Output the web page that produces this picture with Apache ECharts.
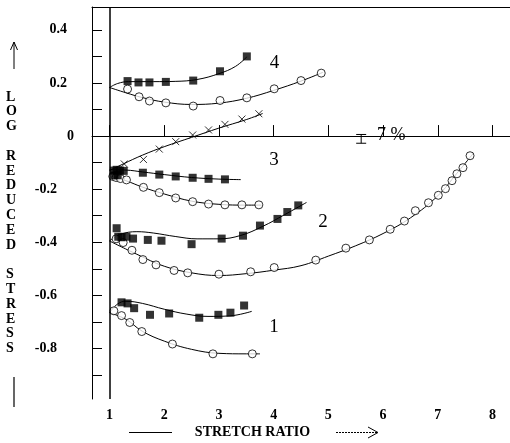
<!DOCTYPE html>
<html>
<head>
<meta charset="utf-8">
<script src="https://cdn.jsdelivr.net/npm/echarts@6/dist/echarts.min.js"></script>
<style>
html, body { margin: 0; padding: 0; background: #fff; }
#chart { width: 510px; height: 443px; }
</style>
</head>
<body>
<div id="chart"></div>
<script>
const xTicks = [1, 2, 3, 4, 5, 6, 7, 8];
const yTicks = [-0.9, -0.8, -0.7, -0.6, -0.5, -0.4, -0.3, -0.2, -0.1, 0, 0.1, 0.2, 0.3, 0.4];
const yLabels = [-0.8, -0.6, -0.4, -0.2, 0, 0.2, 0.4];
const yTitle = 'LOG REDUCED STRESS';

// curve 4
const sq4 = [[1.33, 0.207], [1.53, 0.202], [1.73, 0.202], [2.03, 0.204], [2.53, 0.209], [3.02, 0.244], [3.51, 0.300]];
const fitSq4 = [[1, 0.183], [1.15, 0.198], [1.35, 0.205], [1.8, 0.205], [2.2, 0.206], [2.6, 0.213], [3.0, 0.235], [3.3, 0.262], [3.51, 0.298]];
const ci4 = [[1.33, 0.177], [1.54, 0.148], [1.73, 0.132], [2.03, 0.125], [2.53, 0.113], [3.02, 0.134], [3.51, 0.144], [4.01, 0.178], [4.50, 0.209], [4.87, 0.237]];
const fitCi4 = [[1, 0.183], [1.3, 0.163], [1.6, 0.145], [2.0, 0.128], [2.5, 0.119], [3.0, 0.124], [3.5, 0.142], [4.0, 0.172], [4.5, 0.207], [4.9, 0.240]];

// curve 3
const cr3 = [[1.27, -0.105], [1.62, -0.088], [1.91, -0.049], [2.21, -0.021], [2.52, 0.004], [2.81, 0.023], [3.11, 0.044], [3.42, 0.064], [3.73, 0.084]];
const fitCr3 = [[1, -0.13], [1.25, -0.105], [1.6, -0.072], [2.0, -0.040], [2.5, -0.005], [3.0, 0.030], [3.5, 0.062], [3.8, 0.085]];
const sq3 = [[1.08, -0.130], [1.13, -0.127], [1.19, -0.130], [1.26, -0.131], [1.09, -0.148], [1.15, -0.147], [1.61, -0.138], [1.91, -0.145], [2.21, -0.152], [2.52, -0.157], [2.81, -0.161], [3.11, -0.163]];
const fitSq3 = [[1, -0.127], [1.3, -0.128], [1.6, -0.135], [2.0, -0.145], [2.5, -0.156], [3.0, -0.162], [3.4, -0.164]];
const ci3 = [[1.06, -0.152], [1.12, -0.156], [1.2, -0.16], [1.31, -0.165], [1.62, -0.193], [1.91, -0.213], [2.21, -0.233], [2.52, -0.247], [2.81, -0.256], [3.11, -0.259], [3.42, -0.259], [3.73, -0.259]];
const fitCi3 = [[1, -0.150], [1.3, -0.168], [1.6, -0.192], [2.0, -0.218], [2.5, -0.245], [3.0, -0.257], [3.5, -0.260], [3.78, -0.260]];

// curve 2
const sq2 = [[1.13, -0.347], [1.16, -0.379], [1.22, -0.381], [1.31, -0.379], [1.43, -0.386], [1.70, -0.391], [1.95, -0.394], [2.50, -0.407], [3.05, -0.386], [3.44, -0.375], [3.75, -0.337], [4.07, -0.312], [4.25, -0.286], [4.45, -0.261]];
const fitSq2 = [[1, -0.395], [1.2, -0.370], [1.5, -0.360], [1.8, -0.365], [2.2, -0.378], [2.6, -0.387], [3.0, -0.387], [3.4, -0.374], [3.8, -0.340], [4.2, -0.296], [4.6, -0.250]];
const ci2 = [[1.12, -0.387], [1.25, -0.401], [1.41, -0.430], [1.61, -0.465], [1.85, -0.485], [2.18, -0.506], [2.43, -0.515], [3.00, -0.520], [3.58, -0.511], [4.01, -0.495], [4.77, -0.467], [5.32, -0.422], [5.75, -0.391], [6.13, -0.351], [6.39, -0.320], [6.59, -0.281], [6.83, -0.251], [7.01, -0.223], [7.14, -0.198], [7.26, -0.168], [7.35, -0.142], [7.46, -0.119], [7.59, -0.074]];
const fitCi2 = [[1, -0.395], [1.5, -0.445], [2.0, -0.49], [2.5, -0.515], [3.0, -0.525], [3.5, -0.518], [4.0, -0.505], [4.5, -0.488], [5.0, -0.452], [5.5, -0.413], [6.0, -0.367], [6.5, -0.308], [7.0, -0.225], [7.35, -0.14], [7.65, -0.065]];

// curve 1
const sq1 = [[1.22, -0.626], [1.33, -0.630], [1.45, -0.648], [1.74, -0.673], [2.09, -0.668], [2.64, -0.684], [2.99, -0.673], [3.21, -0.665], [3.46, -0.638]];
const fitSq1 = [[1, -0.665], [1.15, -0.632], [1.3, -0.622], [1.6, -0.630], [2.0, -0.652], [2.4, -0.670], [2.8, -0.679], [3.2, -0.677], [3.6, -0.660]];
const ci1 = [[1.08, -0.658], [1.22, -0.676], [1.37, -0.702], [1.59, -0.736], [2.15, -0.783], [2.89, -0.820], [3.61, -0.820]];
const fitCi1 = [[1, -0.665], [1.3, -0.69], [1.6, -0.735], [2.0, -0.772], [2.5, -0.803], [3.0, -0.818], [3.5, -0.820], [3.75, -0.820]];

// 7 % error bar: x, top, bottom
const errBar = [[5.60, 0.006, -0.027]];

const serif = 'Liberation Serif';
const black = '#000';

const fit = (data) => ({
  type: 'line', data, smooth: 0.4, symbol: 'none', silent: true, z: 2,
  lineStyle: { color: black, width: 1 },
});
const squares = (data) => ({
  type: 'scatter', data, symbol: 'rect', symbolSize: 8, silent: true, z: 4,
  itemStyle: { color: black },
});
const circles = (data) => ({
  type: 'scatter', data, symbol: 'circle', symbolSize: 8, silent: true, z: 3,
  itemStyle: { color: '#fff', borderColor: black, borderWidth: 1 },
});
const crosses = (data) => ({
  type: 'scatter', data, symbol: 'path://M0,0L10,10M10,0L0,10', symbolSize: 7, silent: true, z: 3,
  itemStyle: { color: 'none', borderColor: black, borderWidth: 1 },
});

const chart = echarts.init(document.getElementById('chart'));
chart.setOption({
  animation: false,
  backgroundColor: '#fff',
  grid: { left: 92, right: 0, top: 7, bottom: 44 },
  xAxis: [{
    type: 'value', min: 0.68, max: 8.32,
    axisLine: { lineStyle: { color: black, width: 1 } },
    axisTick: { inside: true, length: 11, customValues: xTicks, lineStyle: { color: black } },
    axisLabel: { customValues: xTicks, margin: 9, color: black, fontFamily: serif, fontWeight: 'bold', fontSize: 14 },
    splitLine: { show: false },
  }, {
    type: 'value', position: 'top', min: 0.68, max: 8.32,
    axisLine: { show: true, lineStyle: { color: black, width: 1 } },
    axisTick: { show: false }, axisLabel: { show: false }, splitLine: { show: false },
  }],
  yAxis: {
    type: 'value', min: -0.99, max: 0.486,
    axisLine: { show: true, lineStyle: { color: black, width: 1 } },
    axisTick: { inside: true, length: 10, customValues: yTicks, lineStyle: { color: black } },
    axisLabel: {
      customValues: yLabels, margin: 18, color: black,
      fontFamily: serif, fontWeight: 'bold', fontSize: 14,
      formatter: (v) => {
        const r = Math.round(v * 10) / 10;
        if (r > 0) return '{p|' + r + '}';
        if (r < 0) return '{n|' + r + '}';
        return '{z|0}';
      },
      rich: {
        p: { padding: [0, 7, 0, 0], fontFamily: serif, fontWeight: 'bold', fontSize: 14, color: black },
        n: { padding: [0, 17, 0, 0], fontFamily: serif, fontWeight: 'bold', fontSize: 14, color: black },
        z: { fontFamily: serif, fontWeight: 'bold', fontSize: 14, color: black },
      },
    },
    splitLine: { show: false },
  },
  series: [
    Object.assign(fit(fitSq4), {
      markLine: {
        silent: true, symbol: 'none', label: { show: false },
        lineStyle: { color: black, width: 1.5, type: 'solid' },
        data: [{ xAxis: 1 }],
      },
    }),
    fit(fitCi4), fit(fitCr3), fit(fitSq3), fit(fitCi3),
    fit(fitSq2), fit(fitCi2), fit(fitSq1), fit(fitCi1),
    circles(ci4), circles(ci3), circles(ci2), circles(ci1),
    crosses(cr3),
    squares(sq4), squares(sq3), squares(sq2), squares(sq1),
    {
      type: 'custom', data: errBar, silent: true, z: 3,
      renderItem: (params, api) => {
        const top = api.coord([api.value(0), api.value(1)]);
        const bot = api.coord([api.value(0), api.value(2)]);
        const w = 5;
        const st = { stroke: black, lineWidth: 1 };
        return {
          type: 'group', children: [
            { type: 'line', shape: { x1: top[0], y1: top[1], x2: bot[0], y2: bot[1] }, style: st },
            { type: 'line', shape: { x1: top[0] - w, y1: top[1], x2: top[0] + w, y2: top[1] }, style: st },
            { type: 'line', shape: { x1: bot[0] - w, y1: bot[1], x2: bot[0] + w, y2: bot[1] }, style: st },
          ],
        };
      },
    },
  ],
  graphic: [
    {
      type: 'text', left: 6, top: 89.6,
      style: {
        text: yTitle.split('').map((c) => (c === ' ' ? '' : c)).join('\n'),
        font: 'bold 14px "Liberation Serif"', fill: black, lineHeight: 14.8, align: 'center',
      },
    },
    { type: 'polyline', shape: { points: [[14, 69], [14, 42]] }, style: { stroke: black, lineWidth: 1, fill: null } },
    { type: 'polyline', shape: { points: [[10.5, 50], [14, 42], [17.5, 50]] }, style: { stroke: black, lineWidth: 1, fill: null } },
    { type: 'polyline', shape: { points: [[14, 377], [14, 407]] }, style: { stroke: black, lineWidth: 1.2, fill: null } },
    { type: 'text', x: 274.5, y: 63, style: { text: '4', font: '19px "Liberation Serif"', fill: black, align: 'center', verticalAlign: 'middle' } },
    { type: 'text', x: 274, y: 160, style: { text: '3', font: '19px "Liberation Serif"', fill: black, align: 'center', verticalAlign: 'middle' } },
    { type: 'text', x: 323, y: 222, style: { text: '2', font: '19px "Liberation Serif"', fill: black, align: 'center', verticalAlign: 'middle' } },
    { type: 'text', x: 274, y: 327, style: { text: '1', font: '19px "Liberation Serif"', fill: black, align: 'center', verticalAlign: 'middle' } },
    { type: 'text', x: 377, y: 135, style: { text: '7 %', font: '18px "Liberation Serif"', fill: black, align: 'left', verticalAlign: 'middle' } },
    { type: 'text', x: 252.5, y: 432.5, style: { text: 'STRETCH RATIO', font: 'bold 14px "Liberation Serif"', fill: black, align: 'center', verticalAlign: 'middle' } },
    { type: 'polyline', shape: { points: [[129, 432.5], [172, 432.5]] }, style: { stroke: black, lineWidth: 1, fill: null } },
    { type: 'polyline', shape: { points: [[336, 432.5], [377, 432.5]] }, style: { stroke: black, lineWidth: 1, lineDash: [2, 1], fill: null } },
    { type: 'polyline', shape: { points: [[368, 427], [378, 432.5], [368, 438]] }, style: { stroke: black, lineWidth: 1, fill: null } },
  ],
});
</script>
</body>
</html>
